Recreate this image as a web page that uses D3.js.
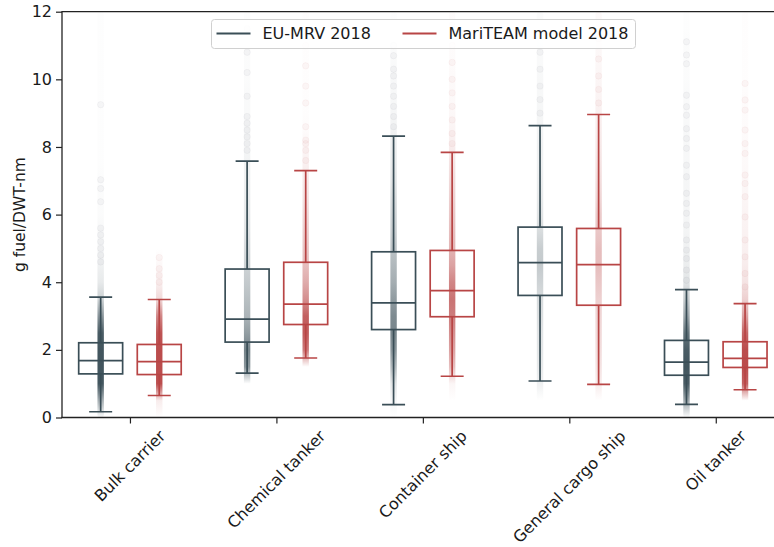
<!DOCTYPE html>
<html><head><meta charset="utf-8">
<script src="https://cdn.jsdelivr.net/npm/d3@7"></script>
<style>body{margin:0;background:#fff}svg{display:block}text{font-family:"DejaVu Sans",sans-serif;fill:#1a1a1a}</style>
</head><body><svg id="c" width="774" height="547"></svg>
<script>
const categories = ["Bulk carrier","Chemical tanker","Container ship","General cargo ship","Oil tanker"];
const seriesNames = ["EU-MRV 2018","MariTEAM model 2018"];
const seriesColors = ["#3a4e57","#b84545"];
const yTicks = [0,2,4,6,8,10,12];

// box statistics (g fuel / DWT-nm)
const euWhiskerLow  = [0.17,1.31,0.38,1.08,0.39];
const euQ1          = [1.29,2.23,2.60,3.61,1.25];
const euMedian      = [1.68,2.91,3.39,4.58,1.64];
const euQ3          = [2.21,4.39,4.90,5.63,2.28];
const euWhiskerHigh = [3.56,7.58,8.32,8.63,3.78];

const mtWhiskerLow  = [0.65,1.76,1.22,0.98,0.82];
const mtQ1          = [1.27,2.75,2.98,3.32,1.48];
const mtMedian      = [1.65,3.35,3.75,4.52,1.75];
const mtQ3          = [2.16,4.59,4.94,5.59,2.24];
const mtWhiskerHigh = [3.49,7.30,7.84,8.96,3.37];

// estimated density of the plotted ship points, at levels 0, 0.5, ... 12
const stripLevels = [0,0.5,1,1.5,2,2.5,3,3.5,4,4.5,5,5.5,6,6.5,7,7.5,8,8.5,9,9.5,10,10.5,11,11.5,12];
const euDensity = [
  [0.02,0.45,0.95,0.96,0.96,0.92,0.6,0.25,0.12,0.08,0.05,0.04,0.02,0.02,0.02,0.01,0.01,0.01,0.01,0.01,0.01,0.01,0.01,0.01,0.01],
  [0,0,0,0.6,0.7,0.55,0.42,0.36,0.3,0.25,0.2,0.15,0.12,0.1,0.08,0.07,0.05,0.05,0.03,0.03,0.02,0.02,0.02,0.01,0.01],
  [0,0.05,0.15,0.4,0.6,0.68,0.66,0.56,0.46,0.4,0.34,0.28,0.24,0.2,0.15,0.12,0.1,0.07,0.05,0.04,0.04,0.03,0.02,0.01,0.01],
  [0,0,0.08,0.12,0.14,0.15,0.18,0.2,0.25,0.3,0.28,0.2,0.15,0.12,0.1,0.08,0.08,0.06,0.05,0.04,0.04,0.03,0.03,0.02,0.02],
  [0,0.5,0.92,0.96,0.92,0.78,0.5,0.3,0.15,0.1,0.08,0.06,0.05,0.05,0.05,0.04,0.04,0.04,0.03,0.03,0.02,0.02,0.02,0.01,0.01]
];
const mtDensity = [
  [0,0.1,0.95,0.96,0.96,0.92,0.65,0.2,0.08,0.04,0,0,0,0,0,0,0,0,0,0,0,0,0,0,0],
  [0,0,0,0,0.72,0.88,0.85,0.6,0.45,0.35,0.3,0.25,0.2,0.15,0.12,0.08,0.05,0.02,0.01,0.01,0.01,0.01,0.01,0.01,0.01],
  [0,0,0.05,0.35,0.5,0.6,0.7,0.75,0.65,0.5,0.4,0.35,0.3,0.25,0.2,0.15,0.1,0.06,0.04,0.03,0.03,0.02,0.02,0.02,0.02],
  [0,0,0.1,0.15,0.18,0.2,0.22,0.25,0.3,0.35,0.35,0.3,0.28,0.22,0.18,0.15,0.12,0.1,0.08,0.06,0.05,0.04,0.04,0.03,0.03],
  [0,0,0.85,0.96,0.96,0.82,0.5,0.25,0.15,0.1,0.08,0.07,0.06,0.05,0.04,0.03,0.03,0.02,0.02,0.02,0.01,0.01,0.01,0.01,0.01]
];
// individually visible outlying ships
const euOutliers = [
  [4.6,4.8,5.0,5.2,5.4,5.6,6.38,6.77,7.03,9.25],
  [7.9,8.1,8.3,8.5,8.7,8.9,9.5,10.2,10.8,11.5],
  [8.6,8.9,9.2,9.5,9.8,10.1,10.3,10.7,11.0],
  [9.0,9.4,9.8,10.3,10.8],
  [4.06,4.36,4.70,4.95,5.25,5.69,6.04,6.33,6.63,7.12,7.46,7.96,8.25,8.54,8.94,9.19,9.53,10.46,10.72,11.11]
];
const mtOutliers = [
  [4.0,4.2,4.4,4.73],
  [7.6,7.9,8.1,8.2,8.6,9.3,9.8,10.4,11.0],
  [8.1,8.4,8.8,9.2,9.6,10.0,10.5,11.0,11.6],
  [9.3,9.7,10.1,10.6,11.2],
  [3.86,4.26,4.75,5.25,5.93,6.53,6.92,7.17,7.81,8.10,8.50,9.09,9.39,9.88]
];

(function () {
const svg = d3.select("#c");
const pLeft = 62, pTop = 11.7, pBottom = 417.5;
const x = d3.scaleLinear().domain([-0.464, 4.5]).range([pLeft, 789]);
const y = d3.scaleLinear().domain([0, 12]).range([pBottom, pTop]);
const dodge = [-0.2, 0.2];
const boxW = x(0.3) - x(0), capW = x(0.157) - x(0);

const series = [
  {lo: euWhiskerLow, q1: euQ1, med: euMedian, q3: euQ3, hi: euWhiskerHigh, dens: euDensity, out: euOutliers},
  {lo: mtWhiskerLow, q1: mtQ1, med: mtMedian, q3: mtQ3, hi: mtWhiskerHigh, dens: mtDensity, out: mtOutliers}
];

const defs = svg.append("defs");
defs.append("clipPath").attr("id","plotclip").append("rect")
  .attr("x", pLeft).attr("y", pTop).attr("width", 789-pLeft).attr("height", pBottom-pTop);
const plot = svg.append("g").attr("clip-path","url(#plotclip)");

series.forEach((s, si) => {
  const col = seriesColors[si];
  categories.forEach((c, ci) => {
    const cx = x(ci + dodge[si]);
    const g = plot.append("g");
    g.append("line").attr("x1",cx).attr("x2",cx).attr("y1",y(s.lo[ci])).attr("y2",y(s.q1[ci]))
      .attr("stroke",col).attr("stroke-width",1.7);
    g.append("line").attr("x1",cx).attr("x2",cx).attr("y1",y(s.q3[ci])).attr("y2",y(s.hi[ci]))
      .attr("stroke",col).attr("stroke-width",1.7);
    [s.lo[ci], s.hi[ci]].forEach(v => g.append("line")
      .attr("x1",cx-capW/2).attr("x2",cx+capW/2).attr("y1",y(v)).attr("y2",y(v))
      .attr("stroke",col).attr("stroke-width",1.7));
    g.append("rect").attr("x",cx-boxW/2).attr("width",boxW)
      .attr("y",y(s.q3[ci])).attr("height",y(s.q1[ci])-y(s.q3[ci]))
      .attr("fill","none").attr("stroke",col).attr("stroke-width",1.7);
    g.append("line").attr("x1",cx-boxW/2).attr("x2",cx+boxW/2)
      .attr("y1",y(s.med[ci])).attr("y2",y(s.med[ci]))
      .attr("stroke",col).attr("stroke-width",1.7);
    const gid = `g${si}_${ci}`;
    const grad = defs.append("linearGradient").attr("id",gid)
      .attr("gradientUnits","userSpaceOnUse").attr("x1",0).attr("x2",0)
      .attr("y1",y(0)).attr("y2",y(12));
    stripLevels.forEach((lv, k) => grad.append("stop")
      .attr("offset", (y(0)-y(lv))/(y(0)-y(12)))
      .attr("stop-color", col).attr("stop-opacity", s.dens[ci][k]));
    plot.append("rect").attr("x",cx-3.2).attr("width",6.4)
      .attr("y",y(12)).attr("height",y(0)-y(12)).attr("rx",3)
      .attr("fill",`url(#${gid})`);
    plot.selectAll(null).data(s.out[ci]).enter().append("circle")
      .attr("cx",cx).attr("cy",d=>y(d)).attr("r",3.2)
      .attr("fill",col).attr("fill-opacity",0.045)
      .attr("stroke",col).attr("stroke-opacity",0.06).attr("stroke-width",0.8);
  });
});

const yAxis = svg.append("g").attr("transform",`translate(${pLeft},0)`)
  .call(d3.axisLeft(y).tickValues(yTicks).tickSize(6).tickPadding(4).tickFormat(d3.format("d")));
yAxis.select(".domain").remove();
yAxis.selectAll("text").style("font-size","16px").attr("fill","#1a1a1a");
yAxis.selectAll("line").attr("stroke","#222").attr("stroke-width",1.2);

const xAxis = svg.append("g").attr("transform",`translate(0,${pBottom})`)
  .call(d3.axisBottom(x).tickValues(d3.range(categories.length)).tickSize(6).tickFormat(""));
xAxis.select(".domain").remove();
xAxis.selectAll("line").attr("stroke","#222").attr("stroke-width",1.2);

categories.forEach((c, i) => {
  const t = svg.append("text").text(c).style("font-size","16px")
    .attr("text-anchor","middle").attr("dominant-baseline","central");
  const L = t.node().getComputedTextLength();
  const h = 15;
  const cx = x(i), cy = 428 + (L + h) / (2*Math.SQRT2);
  t.attr("transform",`translate(${cx},${cy}) rotate(-45)`);
});

svg.append("line").attr("x1",pLeft).attr("x2",pLeft).attr("y1",pTop).attr("y2",pBottom+0.6)
  .attr("stroke","#222").attr("stroke-width",1.3);
svg.append("line").attr("x1",pLeft-0.6).attr("x2",789).attr("y1",pBottom).attr("y2",pBottom)
  .attr("stroke","#222").attr("stroke-width",1.3);
svg.append("line").attr("x1",pLeft-0.6).attr("x2",789).attr("y1",pTop).attr("y2",pTop)
  .attr("stroke","#222").attr("stroke-width",1.3);

svg.append("text").text("g fuel/DWT-nm").style("font-size","15.5px")
  .attr("text-anchor","middle")
  .attr("transform",`translate(25,${(pTop+pBottom)/2}) rotate(-90)`);

const lg = svg.append("g");
lg.append("rect").attr("x",211.5).attr("y",19.5).attr("width",424).attr("height",29).attr("rx",3)
  .attr("fill","#fff").attr("fill-opacity",0.85).attr("stroke","#d0d0d0").attr("stroke-width",1);
const legX = [216.5, 402.5];
seriesNames.forEach((n, i) => {
  lg.append("line").attr("x1",legX[i]).attr("x2",legX[i]+34).attr("y1",33.5).attr("y2",33.5)
    .attr("stroke",seriesColors[i]).attr("stroke-width",2);
  lg.append("text").text(n).style("font-size","16px").attr("x",legX[i]+46).attr("y",33.5)
    .attr("dominant-baseline","central");
});
})();
</script></body></html>
